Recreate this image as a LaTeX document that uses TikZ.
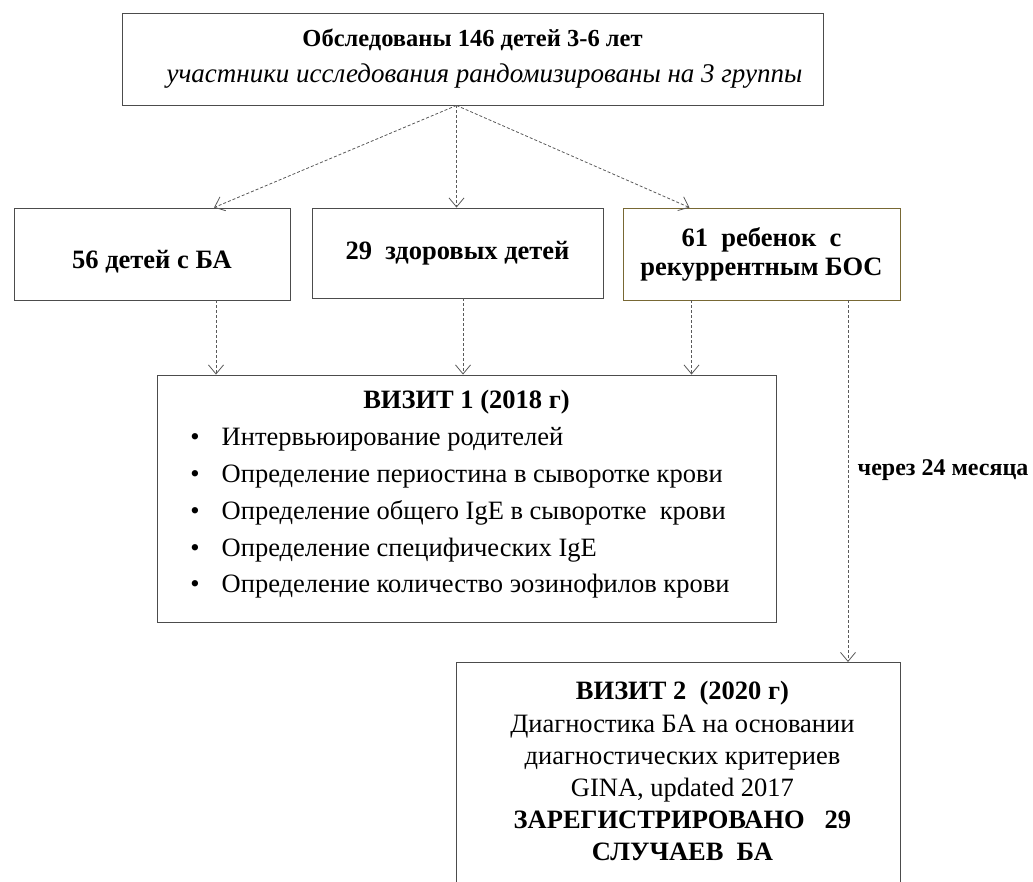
\documentclass[tikz,border=0pt]{standalone}
\usepackage{fontspec}
\setmainfont{Liberation Serif}
\usetikzlibrary{positioning,arrows.meta,calc}
\definecolor{bosframe}{RGB}{120,104,52}
\begin{document}
\begin{tikzpicture}[x=1pt,y=-1pt,
box/.style={
% the frames:
rectangle,
draw=black!70,
line width=0.9pt,
align=center,
inner sep=0pt
},
flow/.style={
draw=black!65,
dash pattern=on 3pt off 2pt,
line width=0.8pt,
-{Straight Barb[length=9pt,width=15pt]}
},
font=\fontsize{26.5}{36}\selectfont
]
\useasboundingbox (0,0) rectangle (1033,881);
\clip (0,0) rectangle (1033,881);
% Top and groups:
\node (top) [box, minimum width=701, minimum height=92] at (472.5,59)
  {{\fontsize{24.5}{36}\selectfont\textbf{Обследованы 146 детей 3-6 лет}}\\
   \hspace*{24pt}{\fontsize{27}{35}\selectfont\textit{участники исследования рандомизированы на 3 группы}}};
\node (ba) [box, minimum width=276, minimum height=92, text height=28pt, text depth=0pt] at (152,254) {\textbf{56 детей с БА}};
\node (healthy) [box, minimum width=291, minimum height=90] at (457.5,253) {\textbf{29~ здоровых детей}};
\node (bos) [box, draw=bosframe, minimum width=277, minimum height=92, font=\fontsize{26.5}{29}\selectfont] at (761.5,254)
  {\textbf{61~ ребенок~ с}\\ \textbf{рекуррентным БОС}};
% Visits:
\node (visit1) [box, minimum width=619, minimum height=247, font=\fontsize{26.5}{36.8}\selectfont] at (466.5,498.5) {%
  \begin{tabular}{@{}c@{\hspace{22pt}}l@{}}
  \multicolumn{2}{c}{\hspace*{13pt}\textbf{ВИЗИТ 1 (2018 г)}}\\
  \textbullet & Интервьюирование родителей\\
  \textbullet & Определение периостина в сыворотке крови\\
  \textbullet & Определение общего IgE в сыворотке~ крови\\
  \textbullet & Определение специфических IgE\\
  \textbullet & Определение количество эозинофилов крови\\[10pt]
  \end{tabular}\hspace*{13pt}};
\node (visit2) [box, minimum width=444, minimum height=260, anchor=north west] at (456,662) {};
\node (v2text) [below=16pt of visit2.north, xshift=4pt, align=center, font=\fontsize{26.5}{32.2}\selectfont]
  {\textbf{ВИЗИТ 2~ (2020 г)}\\ Диагностика БА на основании\\ диагностических критериев\\
   GINA, updated 2017\\ \textbf{ЗАРЕГИСТРИРОВАНО~~ 29}\\ \textbf{СЛУЧАЕВ~ БА}};
% Connectors:
\coordinate (fork) at ([xshift=-16]top.south);
\draw[flow] (fork) -- ([xshift=62]ba.north);
\draw[flow] (fork) -- ([xshift=-1]healthy.north);
\draw[flow] (fork) -- ([xshift=-72]bos.north);
\foreach \src/\dx in {ba/64, healthy/5.5, bos/-70} {
  \coordinate (drop) at ([xshift=\dx]\src.south);
  \draw[flow] (drop) -- (drop |- visit1.north);
}
\coordinate (later) at ([xshift=86.5]bos.south);
\draw[flow] (later) -- (later |- visit2.north)
  node [pos=0.47, anchor=west, xshift=6pt, font=\fontsize{24}{26}\selectfont\bfseries] {через 24 месяца};
\end{tikzpicture}
\end{document}
